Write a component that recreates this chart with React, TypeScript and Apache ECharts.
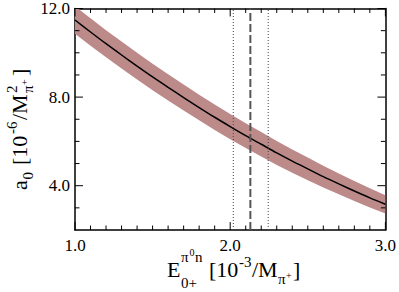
import React, { useEffect, useRef } from "react";
import * as echarts from "echarts";

// Photon energy variable E0+ (10^-3 / M_pi+)
const E_VALUES = [1.0, 1.1, 1.2, 1.3, 1.4, 1.5, 1.6, 1.7, 1.8, 1.9, 2.0, 2.1, 2.2, 2.3, 2.4, 2.5, 2.6, 2.7, 2.8, 2.9, 3.0];
// a0 (10^-6 / M_pi+^2): central curve and error band
const A0_CENTRAL = [11.48, 10.94, 10.41, 9.9, 9.4, 8.91, 8.44, 7.98, 7.53, 7.09, 6.67, 6.26, 5.87, 5.48, 5.11, 4.76, 4.41, 4.08, 3.76, 3.45, 3.16];
const A0_LOWER = [10.86, 10.32, 9.8, 9.29, 8.8, 8.31, 7.85, 7.39, 6.95, 6.51, 6.1, 5.7, 5.32, 4.94, 4.59, 4.25, 3.92, 3.61, 3.31, 3.02, 2.75];
const A0_UPPER = [12.1, 11.56, 11.02, 10.51, 10.0, 9.51, 9.03, 8.57, 8.11, 7.67, 7.24, 6.82, 6.42, 6.02, 5.63, 5.27, 4.9, 4.55, 4.21, 3.88, 3.57];
// vertical markers: experimental value (dashed) and its error (dotted)
const DASHED_E = [2.13];
const DOTTED_E = [2.02, 2.245];
// axes and ticks
const X_RANGE = [1, 3];
const Y_RANGE = [2, 12];
const X_MAJOR = [1, 2, 3];
const X_MINOR = [1.1, 1.2, 1.3, 1.4, 1.5, 1.6, 1.7, 1.8, 1.9, 2.1, 2.2, 2.3, 2.4, 2.5, 2.6, 2.7, 2.8, 2.9];
const Y_MAJOR = [4, 8, 12];
const Y_MINOR = [3, 5, 6, 7, 9, 10, 11];

const FONT = "Liberation Serif";
const BAND_COLOR = "#bd8a8a";
const GRID = { left: 75, top: 7, width: 311, height: 223 };
const MINOR_LEN = 4.5;
const MAJOR_LEN = 8;

function piece(text: string, x: number, baseline: number, size: number) {
  return {
    type: "text",
    x,
    y: baseline - 0.34 * size,
    style: {
      text,
      fontFamily: FONT,
      fontSize: size,
      fill: "#000",
      align: "left",
      verticalAlign: "middle",
    },
  };
}

export default function App() {
  const ref = useRef<HTMLDivElement>(null);
  useEffect(() => {
    if (!ref.current) return;
    const chart = echarts.init(ref.current, undefined, { renderer: "svg" });
    const frame = { show: true, onZero: false, lineStyle: { color: "#000", width: 1.5 } };
    const label = (values: number[], margin: number) => ({
      show: true,
      customValues: values,
      formatter: (v: number) => v.toFixed(1),
      fontFamily: FONT,
      fontSize: 17,
      color: "#000",
      margin,
    });
    const baseX = { type: "value", min: X_RANGE[0], max: X_RANGE[1], interval: 1, axisTick: { show: false }, splitLine: { show: false }, axisLine: frame };
    const baseY = { type: "value", min: Y_RANGE[0], max: Y_RANGE[1], interval: 1, axisTick: { show: false }, splitLine: { show: false }, axisLine: frame };

    const vline = (e: number, type: any, width: number, color: string) => ({
      type: "line",
      data: [
        [e, Y_RANGE[0]],
        [e, Y_RANGE[1]],
      ],
      symbol: "none",
      lineStyle: { type, width, color },
      z: 4,
      silent: true,
    });

    // tick marks: each tick is its own short two-point segment, lengths converted from pixels to data units
    const pxPerX = GRID.width / (X_RANGE[1] - X_RANGE[0]);
    const pxPerY = GRID.height / (Y_RANGE[1] - Y_RANGE[0]);
    const segs: number[][][] = [];
    const addX = (v: number, len: number) => {
      const d = len / pxPerY;
      segs.push([[v, Y_RANGE[0]], [v, Y_RANGE[0] + d]], [[v, Y_RANGE[1]], [v, Y_RANGE[1] - d]]);
    };
    const addY = (v: number, len: number) => {
      const d = len / pxPerX;
      segs.push([[X_RANGE[0], v], [X_RANGE[0] + d, v]], [[X_RANGE[1], v], [X_RANGE[1] - d, v]]);
    };
    X_MINOR.forEach((v) => addX(v, MINOR_LEN));
    X_MAJOR.forEach((v) => addX(v, MAJOR_LEN));
    Y_MINOR.forEach((v) => addY(v, MINOR_LEN));
    Y_MAJOR.forEach((v) => addY(v, MAJOR_LEN));
    const tickSeries = segs.map((s) => ({
      type: "line",
      data: s,
      symbol: "none",
      clip: false,
      silent: true,
      lineStyle: { color: "#000", width: 1 },
      z: 6,
    }));

    const xTitle = [
      piece("E", 167, 277, 22),
      piece("π", 181, 262, 15),
      piece("0", 189.5, 256, 10),
      piece("n", 195, 262, 15),
      piece("0+", 181, 288, 15),
      piece("[10", 209, 277, 22),
      piece("-3", 239, 267, 15),
      piece("/M", 252, 277, 22),
      piece("π", 278, 284, 15),
      piece("+", 286, 279, 10),
      piece("]", 293, 277, 22),
    ];
    const yTitle = [
      piece("a", 0, 0, 22),
      piece("0", 10.5, 6, 15),
      piece("[10", 25, 0, 22),
      piece("-6", 56, -10, 15),
      piece("/M", 70, 0, 22),
      piece("2", 97, -10, 15),
      piece("π", 97, 6, 15),
      piece("+", 105, 1, 10),
      piece("]", 114, 0, 22),
    ];

    chart.setOption({
      animation: false,
      grid: GRID,
      xAxis: [
        { ...baseX, position: "bottom", axisLabel: label(X_MAJOR, 7) },
        { ...baseX, position: "top", axisLabel: { show: false } },
      ],
      yAxis: [
        { ...baseY, position: "left", axisLabel: label(Y_MAJOR, 5) },
        { ...baseY, position: "right", axisLabel: { show: false } },
      ],
      series: [
        {
          type: "custom",
          data: [[E_VALUES[0], A0_CENTRAL[0]]],
          z: 1,
          silent: true,
          renderItem: (params: any, api: any) => {
            const cs = params.coordSys;
            const upper = E_VALUES.map((e, i) => api.coord([e, A0_UPPER[i]]));
            const lower = E_VALUES.map((e, i) => api.coord([e, A0_LOWER[i]])).reverse();
            return {
              type: "polygon",
              shape: { points: [...upper, ...lower] },
              style: { fill: BAND_COLOR, stroke: "none" },
              clipPath: { type: "rect", shape: { x: cs.x, y: cs.y, width: cs.width, height: cs.height } },
            };
          },
        },
        {
          type: "line",
          data: E_VALUES.map((e, i) => [e, A0_CENTRAL[i]]),
          symbol: "none",
          smooth: 0.3,
          lineStyle: { color: "#000", width: 1.5 },
          z: 3,
        },
        ...DASHED_E.map((e) => vline(e, [8, 3], 2, "#555")),
        ...DOTTED_E.map((e) => vline(e, [1, 2], 1, "#444")),
        ...tickSeries,
      ],
      graphic: [...xTitle, { type: "group", x: 27, y: 190, rotation: Math.PI / 2, children: yTitle }],
    });
    return () => chart.dispose();
  }, []);
  return <div ref={ref} style={{ position: "absolute", left: 0, top: 0, width: 399, height: 292, background: "#fff" }} />;
}
